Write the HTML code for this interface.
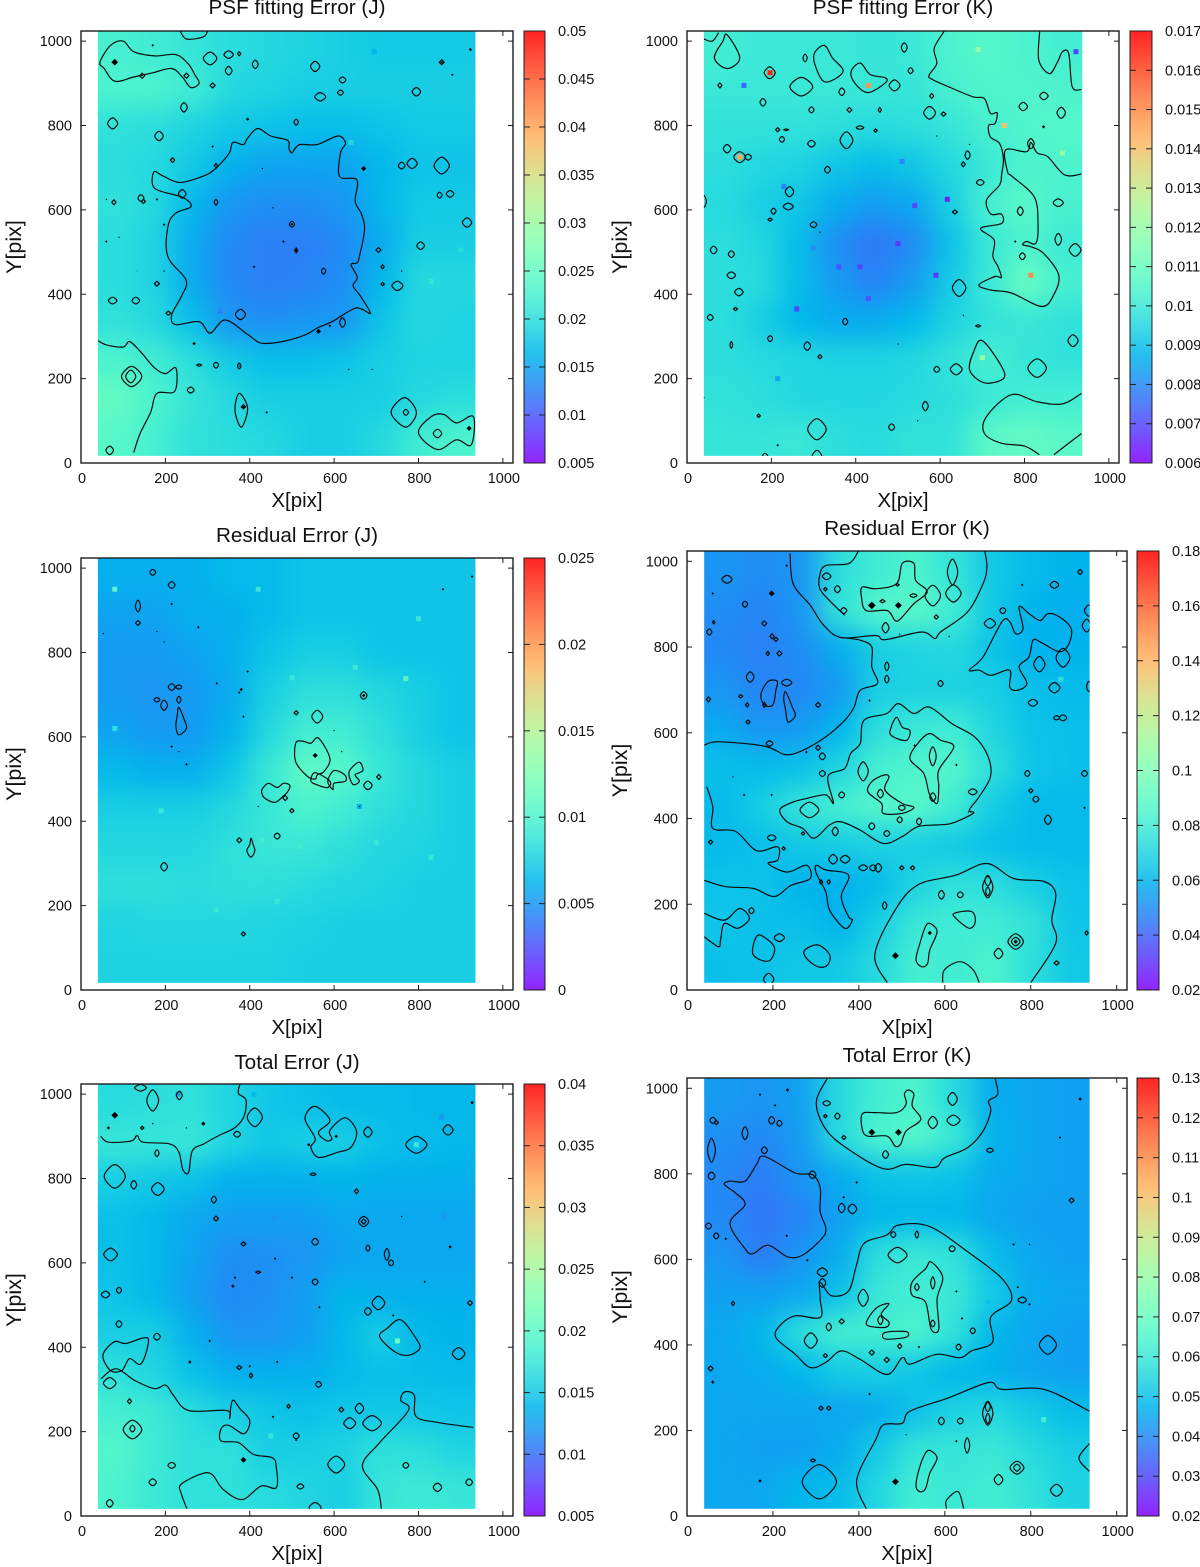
<!DOCTYPE html>
<html lang="en">
<head>
<meta charset="utf-8">
<title>PSF, Residual and Total Error maps</title>
<style>
html,body{margin:0;padding:0;background:#fff;width:1200px;height:1567px;overflow:hidden}
svg{display:block;font-family:"Liberation Sans",Arial,sans-serif}
</style>
</head>
<body>
<svg id="figure" xmlns="http://www.w3.org/2000/svg" width="1200" height="1567" viewBox="0 0 1200 1567">
<defs id="defs"></defs>
</svg>
<script>
// ---------- axis tick labels ----------
const xTickLabels = [0,200,400,600,800,1000];
const yTickLabels = [0,200,400,600,800,1000];
const p1Bar = ["0.005","0.01","0.015","0.02","0.025","0.03","0.035","0.04","0.045","0.05"];
const p2Bar = ["0.006","0.007","0.008","0.009","0.01","0.011","0.012","0.013","0.014","0.015","0.016","0.017"];
const p3Bar = ["0","0.005","0.01","0.015","0.02","0.025"];
const p4Bar = ["0.02","0.04","0.06","0.08","0.1","0.12","0.14","0.16","0.18"];
const p5Bar = ["0.005","0.01","0.015","0.02","0.025","0.03","0.035","0.04"];
const p6Bar = ["0.02","0.03","0.04","0.05","0.06","0.07","0.08","0.09","0.1","0.11","0.12","0.13"];

// ---------- heatmap values, top row first (p1,p2,p3,p5 in 1e-3; p4,p6 in 1e-2) ----------
const p1Values = [
[22.5,22,21,20,19.5,19,18.5,18,18,18],
[23,23,22,19.5,19,18.5,18.5,18.5,18.5,18.5],
[20.5,20,19,18,17.5,17,17,17.5,18,18],
[20,19.5,18,16,15,15,15,16.5,17.5,17.5],
[20.5,19.5,16.5,14,13.5,13.5,14,16.5,18,18],
[20,19,15.5,13.2,12.5,12.5,13.2,15.5,18.5,18.5],
[20,19,15.5,13.2,12.5,12.8,13.5,16.5,19.5,19.5],
[20.5,19.5,17,14,13.5,14,14,17.5,19.5,19],
[23,22,20,18,17,17,17.5,18.5,19,19],
[25,23,21,19.5,18.5,18.5,18.5,18.5,19.5,20],
[24,22.5,20.5,20,19.5,18.5,18.5,19.5,22,23]];
const p2Values = [
[10.2,10,10,10,9.9,10,10.4,10.6,10.4,10.2],
[10,10,10,10,10,9.9,10.3,10.5,10.5,10.4],
[9.8,9.8,9.8,9.7,9.6,9.7,9.9,10.3,10.5,10.6],
[9.7,9.5,9.4,9.1,8.9,9.1,9.5,10,10.4,10.4],
[9.6,9.3,9.1,8.6,8.3,8.5,9.3,10.3,10.7,10.3],
[9.7,9.5,8.9,8.1,7.7,8,9,10,10.4,10.1],
[9.7,9.6,8.9,8.3,7.9,8.3,9.2,10,11,10.3],
[9.7,9.3,8.8,8.6,8.6,8.8,9.4,9.8,10,9.8],
[9.7,9.6,9.5,9.4,9.4,9.5,9.8,10.3,9.9,9.8],
[9.8,9.7,9.5,9.5,9.5,9.6,9.7,10,10.2,10.2],
[9.9,9.9,10,9.7,9.6,9.8,9.8,10.7,10.9,10.7]];
const p3Values = [
[6,6,6,6.5,6.5,7,7,7,7,7],
[5.5,5.5,6,6,6.5,7,7,7,7,7],
[5.2,5.2,5.5,6,7,7.5,7.5,7,7,7],
[5.2,5,5.2,5.8,7.5,8.5,8.5,8,7.5,7],
[5.5,5.2,5.2,6.2,8,9.5,9.5,8.5,7.5,7],
[6.5,6,6,7,9,11,10.5,9,8,7.5],
[7.5,7.5,7.5,8,9,10,9.5,8.5,8,7.5],
[8,8,8,8.5,9,9,8.5,8,7.8,7.5],
[8.5,8.5,8.3,8.5,8.5,8.2,8,7.8,7.5,7.5],
[7.8,8,8,8,7.8,7.7,7.5,7.5,7.5,7.5],
[7.7,7.7,7.7,7.7,7.7,7.5,7.5,7.5,7.5,7.5]];
const p4Values = [
[5.2,5,5.2,7.4,8,8.4,7.6,6.6,6.2,6],
[5,4.8,5.2,7.6,8.6,8.8,8,6.6,6,5.8],
[4.9,4.7,5,5.8,6.8,7,7.2,6.4,5.9,6],
[5.2,4.8,4.9,5.3,6.8,6.9,6.9,6.8,6.3,6.2],
[5.7,5.2,5.3,6,7.4,7.8,8,7,6.4,6.3],
[6.3,6.2,6.3,7,8.2,8.5,8.6,7.4,6.5,6.3],
[6.2,6.8,7.7,8.2,8.6,8.8,8,6.7,6.2,6.2],
[6.2,6.3,6.6,6.7,6.9,6.8,6.6,6.3,6.2,6.2],
[6.4,6.4,6,5.9,6.2,7,7.5,7.4,6.8,6.4],
[6.5,6.3,6.3,6,6.8,7.8,8,8,7.6,6.5],
[6.3,6.4,6.6,6.6,7.2,8.2,8,8.4,7.4,6.6]];
const p5Values = [
[16.5,16.8,17,16,15,14.5,14.2,14.2,14,14],
[17.5,17.5,17.5,16,15,15.5,15.5,14.5,14.2,14],
[15.5,15,14.5,13.5,13.5,13.5,13.8,13.5,13.5,13.5],
[14.5,14,13,12.5,12.5,12.5,13,13,13,13],
[14.5,14,12.8,11.6,11.7,12,12.8,13,13,13],
[14.8,14,12.5,11.4,11.7,12.5,13.8,13.5,13.5,13.5],
[15.5,15.5,13.5,12,12,12.5,14,15.5,14,13.8],
[17,16,14.5,13.5,13.5,13.5,14,14.5,14.3,14.2],
[18.5,18,16.5,15.5,15,14.5,15,15,15,14.8],
[19.5,18,17,17,15.5,15.5,15.8,17,16.8,16],
[19,17.8,17,17,16.5,16,15.5,17.5,18,17.5]];
const p6Values = [
[4.3,4.2,4.4,5.6,6.2,6.4,5.6,4.6,4.5,4.4],
[4.1,4,4.3,5.6,6.4,6.6,6,4.7,4.5,4.4],
[4,3.8,4.2,4.6,5,5.1,5,4.6,4.5,4.4],
[4,3.7,3.9,4.4,4.8,4.8,4.8,4.5,4.4,4.4],
[4.2,3.8,4.2,4.6,5.7,6,5.8,4.9,4.5,4.4],
[4.4,4.4,4.5,5,6,6.2,6,5.2,4.6,4.5],
[4.5,4.8,5.7,6.2,6.2,6.4,5.8,4.8,4.5,4.4],
[4.5,4.6,4.8,5.2,5.3,5.1,4.8,4.7,4.5,4.4],
[4.5,4.5,4.5,4.5,4.6,5,5.4,5.5,5.2,4.9],
[4.5,4.4,4.4,4.6,5.2,5.9,5.9,6,5.6,5.3],
[4.5,4.5,4.8,4.9,5.5,6.2,6,6.2,5.8,5.4]];

// ---------- outlier pixels [x, y, value in same unit] ----------
const p1Hot = [[695,975,16.5],[330,360,13],[640,760,19.5],[900,505,20],[830,430,21]];
const p2Hot = [[197,925,16.5],[815,445,15],[430,895,14.8],[125,725,14.5],[752,800,14],[617,625,6.5],[590,445,6.8],[135,895,7.5],[922,975,7],[540,610,7],[410,465,7],[360,465,7.2],[260,365,7],[430,390,7.2],[230,655,8],[500,520,6.8],[890,735,12],[690,980,12],[510,715,8],[300,510,8],[215,200,8.5],[700,250,12]];
const p3Hot = [[80,950,10.5],[420,950,9],[800,880,9],[650,765,9.2],[500,740,9],[80,620,8.5],[830,315,9],[465,210,9],[320,190,9],[660,435,6],[430,355,9.5],[520,340,9.5],[700,350,9],[190,425,9],[770,738,10.5]];
const p4Hot = [[870,725,7.4]];
const p5Hot = [[80,640,15],[795,880,18],[450,190,17.5],[750,415,21],[230,1000,12.5],[410,1000,14],[860,710,12],[460,705,12],[855,945,12]];
const p6Hot = [[700,500,5],[830,225,6.2]];

// ---------- closed contour outlines in data coordinates ----------
const p1Closed = [
[[419,793],[450,775],[490,765],[493,745],[500,735],[507,745],[520,755],[560,755],[609,775],[627,758],[615,735],[613,679],[654,671],[650,620],[665,590],[672,552],[660,490],[654,474],[640,470],[655,440],[645,420],[663,395],[686,355],[665,365],[645,365],[595,335],[560,320],[532,304],[478,288],[428,284],[396,304],[342,339],[306,308],[280,335],[224,328],[215,351],[238,395],[249,434],[206,489],[206,560],[224,592],[261,608],[240,630],[175,651],[173,690],[195,680],[235,665],[290,680],[319,698],[351,734],[360,760],[385,755],[395,770]],
[[45,950],[70,990],[100,1000],[125,975],[175,965],[225,968],[255,945],[270,920],[280,900],[260,890],[240,915],[215,935],[170,925],[125,915],[80,905],[55,935]],
[[767,155],[795,120],[770,85],[735,120]],
[[375,165],[395,130],[380,85],[365,125]],
[[930,110],[890,95],[860,115],[830,110],[800,71],[845,32],[890,55],[925,43]]
];
const p1Open = [
[[40,290],[60,280],[100,275],[115,288],[140,265],[175,225],[200,212],[225,225],[222,170],[180,165],[165,120],[140,70],[125,25]],
[[235,1024],[250,1005],[290,1010],[300,1024]]
];
const p1Loops = [[306,959,16,15],[350,968,11,9],[375,970,4,5],[413,945,7,10],[350,930,8,10],[555,940,11,12],[620,908,8,7],[615,878,7,6],[567,868,13,10],[795,880,10,10],[855,950,6,6],[145,918,6,6],[250,918,6,6],[312,895,6,6],[244,843,8,11],[75,805,12,13],[185,775,10,11],[510,808,5,7],[217,718,5,6],[320,705,4,5],[240,638,9,10],[142,628,7,8],[148,620,5,5],[78,618,5,6],[320,618,4,7],[500,566,6,7],[510,504,4,6],[575,455,5,7],[705,505,6,6],[715,465,4,5],[715,424,4,4],[805,515,9,9],[750,420,13,11],[785,710,12,12],[760,705,8,8],[855,705,18,20],[875,638,9,8],[850,635,6,7],[915,570,11,11],[180,425,6,6],[75,385,10,8],[130,385,9,8],[378,352,12,12],[207,355,6,5],[620,333,7,11],[260,173,8,7],[320,232,6,7],[280,232,6,3],[375,230,4,7],[68,30,9,10],[845,70,10,10],[770,120,6,7],[120,205,24,24],[118,205,12,15]];
const p1Dots = [[80,950,8],[385,133,7],[670,698,6],[563,312,6],[268,283,4],[170,990,3],[923,980,4],[855,950,3],[90,535,2],[60,525,3],[197,565,3],[180,625,3],[60,625,2],[395,815,4],[312,750,3],[410,465,3],[480,525,3],[455,605,2],[510,504,3],[500,566,3],[590,325,3],[375,230,2],[440,120,3],[635,222,2],[690,222,2],[920,82,6],[880,920,3],[197,455,2],[133,455,1],[760,455,2],[430,698,2]];
const p2Closed = [
[[700,290],[745,230],[750,200],[705,190],[670,220],[680,265]],
[[325,990],[345,960],[370,931],[350,910],[321,907],[300,963]],
[[389,928],[411,948],[434,921],[470,913],[470,901],[429,878],[398,900]],
[[95,1015],[125,960],[95,935],[65,960],[85,1000]]
];
const p2Open = [
[[610,1024],[586,983],[592,947],[574,920],[580,910],[624,890],[678,868],[705,864],[719,829],[735,830],[730,805],[715,800],[719,773],[741,757],[750,720],[746,686],[741,659],[710,623],[720,590],[745,590],[746,568],[696,556],[728,529],[725,490],[737,466],[745,440],[730,442],[692,422],[719,410],[769,403],[841,371],[870,400],[881,446],[845,497],[814,513],[796,517],[805,525],[827,521],[832,568],[823,631],[770,680],[760,690],[755,742],[805,738],[815,760],[830,735],[855,726],[895,683],[935,685]],
[[836,1024],[834,955],[859,923],[878,950],[890,975],[905,970],[913,892],[935,885]],
[[935,165],[890,140],[830,145],[769,162],[710,110],[705,70],[745,47],[800,40],[835,20]],
[[870,20],[935,70]],
[[40,1005],[60,1000],[75,1020]]
];
const p2Loops = [[280,960,5,9],[367,880,7,9],[196,925,13,14],[78,895,5,6],[180,855,7,9],[295,837,6,7],[385,837,6,6],[457,837,4,6],[530,930,6,7],[492,895,13,13],[271,892,27,22],[580,870,5,6],[575,830,14,15],[608,827,6,5],[410,795,9,4],[447,788,4,4],[215,790,5,5],[235,790,6,2],[225,767,6,7],[295,757,9,8],[378,765,15,20],[95,745,9,10],[125,725,14,13],[145,725,8,7],[333,695,7,8],[665,730,6,10],[655,708,5,6],[695,665,9,7],[243,643,10,12],[40,620,6,14],[240,608,12,8],[205,597,6,7],[197,577,5,4],[300,565,8,7],[635,595,6,5],[790,597,7,10],[880,617,12,9],[880,530,8,14],[920,505,14,15],[63,505,8,9],[105,495,7,8],[105,445,10,8],[123,405,10,9],[645,415,16,20],[115,365,5,4],[55,345,7,7],[375,335,6,8],[197,295,6,7],[105,280,3,8],[285,277,8,10],[315,252,5,5],[565,135,7,11],[170,112,4,4],[485,85,7,8],[308,80,22,25],[795,490,7,8],[830,225,22,22],[638,222,14,13],[592,222,7,7],[915,290,12,14],[690,325,6,3],[846,870,10,9],[797,845,10,10],[887,830,10,13],[815,757,8,12],[515,985,7,11],[308,15,12,15],[185,15,7,8]];
const p2Dots = [[215,42,3],[845,797,4],[655,350,2],[500,282,2],[547,100,2],[592,775,2],[670,755,2],[315,547,2],[778,525,3],[40,155,2]];
const p3Closed = [
[[509,585],[525,590],[545,585],[563,597],[590,549],[576,518],[560,510],[555,500],[536,507],[509,541]],
[[555,515],[590,495],[585,480],[563,485],[545,495]],
[[585,495],[600,520],[625,510],[627,495],[600,490],[597,475]],
[[640,525],[660,540],[668,520],[650,510],[660,495],[645,487],[635,510]],
[[432,480],[445,490],[465,480],[480,490],[495,485],[490,470],[480,460],[460,445],[435,455],[428,470]],
[[232,670],[245,640],[250,620],[232,605],[225,625],[228,650]],
[[403,360],[408,345],[412,330],[403,315],[393,330],[400,345]]
];
const p3Open = [];
const p3Loops = [[170,990,7,7],[215,960,8,8],[135,910,6,14],[135,870,6,6],[215,718,8,8],[232,718,7,5],[180,688,7,5],[197,675,8,12],[232,688,5,8],[510,657,5,5],[560,648,13,15],[670,698,8,9],[706,505,5,6],[680,485,10,10],[484,455,6,6],[500,425,5,5],[465,365,7,7],[375,355,6,6],[197,292,8,10],[385,133,5,5]];
const p3Dots = [[215,915,3],[278,860,3],[180,850,2],[197,825,2],[395,755,3],[322,727,3],[380,712,4],[375,705,3],[385,648,3],[215,577,3],[232,565,2],[250,535,3],[600,615,2],[618,565,2],[555,556,6],[670,698,4],[858,950,3],[927,980,3],[420,435,2],[660,435,2],[53,845,2],[250,1024,2]];
const p4Closed = [
[[408,940],[439,936],[488,948],[501,995],[528,995],[532,956],[559,929],[528,901],[497,866],[484,862],[466,885],[417,885],[406,916]],
[[657,746],[689,777],[733,859],[751,859],[765,831],[782,843],[773,894],[796,878],[822,862],[840,878],[867,870],[894,843],[889,808],[867,789],[822,812],[805,816],[796,777],[773,754],[791,715],[769,699],[751,707],[751,746],[707,734],[680,746]],
[[216,420],[243,437],[279,447],[323,455],[341,436],[328,498],[367,517],[381,552],[403,575],[412,629],[465,645],[492,668],[528,645],[564,660],[617,621],[670,590],[701,544],[706,497],[680,451],[657,420],[666,412],[617,389],[582,385],[537,381],[501,358],[457,342],[403,373],[359,392],[332,385],[296,354],[269,377],[233,392]],
[[171,128],[203,101],[194,70],[171,70],[153,85],[158,117]],
[[274,93],[305,105],[332,82],[327,58],[305,54],[278,74]],
[[301,291],[323,280],[376,268],[359,218],[376,171],[385,163],[367,144],[332,186],[323,229],[301,272]],
[[566,155],[582,136],[565,93],[560,62],[547,54],[533,70],[542,109],[555,148]],
[[622,179],[662,183],[671,159],[657,144],[626,167]],
[[488,636],[501,613],[519,605],[510,582],[475,594],[475,613]],
[[564,598],[590,583],[621,567],[586,513],[586,474],[582,435],[564,458],[551,505],[519,539],[537,575]],
[[457,501],[470,497],[461,466],[501,435],[528,426],[501,412],[457,412],[453,435],[421,462],[430,486]],
[[189,720],[210,720],[207,700],[200,665],[180,665],[172,690]],
[[230,695],[245,660],[252,640],[235,625],[230,650],[225,680]]
];
const p4Open = [
[[240,1018],[247,948],[287,897],[318,851],[359,822],[439,827],[461,817],[546,835],[577,820],[590,835],[653,882],[689,948],[698,987],[693,1024]],
[[399,1024],[377,995],[323,990],[309,968],[309,936],[331,909],[367,874]],
[[40,571],[73,579],[180,569],[229,549],[269,559],[322,590],[367,629],[389,660],[403,699],[443,715],[430,754],[430,800],[403,816],[359,822]],
[[46,474],[60,427],[60,377],[113,370],[162,325],[211,334],[211,303],[189,295],[233,275],[278,291],[287,260],[242,244],[203,218],[154,237],[91,241],[40,256]],
[[40,179],[87,163],[122,190],[145,167],[118,144],[87,155],[78,116],[73,101],[40,124]],
[[466,17],[437,82],[484,186],[537,245],[626,268],[698,295],[760,260],[831,253],[858,225],[849,163],[858,109],[800,17]],
[[595,17],[599,47],[635,66],[666,47],[680,17]]
];
const p4Loops = [[700,240,12,25],[700,255,7,12],[700,230,5,10],[765,113,18,18],[765,113,10,10],[725,85,10,12],[592,222,7,10],[636,222,7,7],[460,197,5,9],[93,958,12,9],[135,900,6,7],[52,835,6,7],[62,858,3,4],[180,855,6,6],[198,825,5,6],[207,818,5,5],[215,785,6,6],[188,785,4,5],[147,730,9,12],[232,717,12,8],[125,685,5,4],[50,678,5,6],[140,665,4,5],[180,665,4,6],[305,665,6,6],[142,625,5,5],[192,575,8,6],[305,565,6,6],[315,545,7,8],[315,505,7,7],[360,455,7,7],[430,382,7,8],[465,365,7,7],[495,397,6,7],[540,393,6,8],[270,365,4,4],[197,355,10,7],[345,370,7,10],[665,462,10,7],[792,505,6,7],[800,465,5,5],[812,445,7,7],[840,397,8,11],[925,505,7,7],[55,345,5,5],[225,330,4,4],[340,305,10,11],[368,305,11,9],[410,285,10,7],[433,285,8,7],[445,285,8,10],[500,285,5,5],[525,285,5,5],[312,252,4,5],[330,252,4,5],[150,185,6,7],[215,122,12,9],[190,25,12,14],[860,63,6,5],[930,133,4,5],[855,945,10,8],[735,885,7,7],[705,855,13,11],[875,775,16,22],[820,760,13,18],[855,705,13,12],[935,708,5,12],[805,670,11,8],[860,635,7,5],[875,635,9,7],[935,885,10,13],[930,850,10,15],[915,975,6,6],[618,975,12,30],[620,925,18,20],[572,920,18,24],[325,965,10,8],[322,935,4,4],[350,935,7,8],[490,945,4,3],[527,920,8,4],[455,907,6,4],[365,885,7,7],[462,845,8,12],[580,870,5,5],[410,510,12,22],[450,458,7,10],[572,545,8,22],[572,450,7,10],[500,425,8,6],[285,420,22,18],[465,755,5,10],[465,725,5,9],[590,715,6,7]];
const p4Dots = [[197,925,7],[430,897,9],[492,897,8],[485,80,8],[565,133,5],[765,113,5],[232,990,3],[60,925,3],[495,830,2],[425,675,3],[530,570,3],[107,497,2],[627,525,3],[133,455,3],[197,455,3],[655,415,2],[278,555,3],[925,425,3],[780,945,3],[610,825,2]];
const p5Closed = [
[[758,465],[794,421],[803,397],[776,381],[744,389],[708,425],[726,445]],
[[52,381],[79,413],[106,409],[147,422],[160,417],[151,377],[138,359],[115,373],[97,345],[70,345]],
[[554,971],[590,938],[563,910],[581,890],[595,894],[590,914],[626,944],[653,912],[640,874],[608,862],[563,850],[545,874],[555,895],[531,942]]
];
const p5Open = [
[[47,900],[65,886],[119,889],[133,902],[147,886],[210,882],[232,862],[241,822],[255,814],[264,866],[291,882],[327,902],[364,920],[386,946],[391,986],[373,1002],[377,1024]],
[[47,325],[83,349],[128,321],[174,302],[201,310],[219,286],[255,250],[345,250],[352,230]],
[[352,230],[359,274],[377,254],[400,226],[386,195],[350,215],[332,207],[332,178],[373,174],[409,146],[454,138],[463,115],[463,67],[427,71],[382,39],[337,63],[310,99],[283,99],[237,75],[237,55],[251,17]],
[[712,17],[703,63],[667,119],[708,174],[776,250],[758,274],[767,294],[790,286],[794,236],[844,222],[930,210]]
];
const p5Loops = [[141,1015,14,8],[170,985,14,25],[233,997,7,10],[412,945,18,22],[370,905,8,7],[795,880,25,20],[870,915,12,12],[680,910,10,12],[80,805,25,28],[125,785,7,10],[182,775,15,15],[315,750,6,8],[320,705,6,6],[653,770,5,6],[550,810,7,3],[670,698,12,12],[670,698,6,6],[385,645,6,5],[555,650,8,8],[680,635,5,7],[70,620,16,15],[725,620,6,14],[735,600,6,7],[555,555,7,7],[90,535,6,7],[58,525,10,8],[705,505,15,16],[680,485,8,9],[90,455,7,8],[180,425,8,8],[895,385,15,14],[420,578,6,3],[375,352,6,5],[403,333,4,6],[563,312,7,7],[68,315,15,13],[115,272,5,6],[492,260,4,5],[617,252,6,6],[660,255,10,12],[637,220,14,13],[690,220,22,18],[510,190,7,7],[122,205,22,22],[122,207,6,8],[215,120,9,7],[170,80,9,8],[605,122,20,20],[520,70,8,6],[770,120,7,7],[845,68,10,10],[920,80,8,8],[68,30,8,9],[555,20,14,12],[922,505,6,6],[145,920,4,4],[180,860,5,8]];
const p5Dots = [[80,950,8],[385,133,7],[250,920,2],[460,610,3],[365,565,3],[360,545,4],[875,638,4],[305,415,3],[258,365,4],[465,365,3],[565,495,3],[927,980,4],[290,930,5],[65,920,4],[170,930,2],[605,900,4],[540,880,4],[400,355,3],[455,235,3],[510,180,3],[500,565,3],[760,710,2],[815,555,3],[740,475,3]];
const p6Closed = [
[[408,940],[439,943],[488,943],[510,963],[506,986],[515,996],[528,986],[524,959],[544,927],[510,900],[497,869],[484,865],[466,888],[421,888],[408,904]],
[[180,841],[252,802],[292,798],[310,767],[310,712],[323,673],[314,649],[269,610],[234,606],[189,633],[153,613],[135,625],[100,684],[135,728],[113,755],[87,775],[100,783],[135,783],[162,822]],
[[492,680],[564,677],[653,618],[733,555],[755,504],[707,465],[711,406],[662,386],[635,370],[581,378],[519,355],[501,370],[466,331],[403,366],[359,386],[323,359],[287,347],[252,378],[207,417],[216,445],[252,468],[310,464],[310,507],[310,546],[336,515],[376,526],[394,585],[412,637],[465,657]],
[[566,153],[582,135],[565,100],[555,64],[541,57],[533,73],[542,116],[555,147]],
[[568,594],[595,558],[582,507],[586,437],[568,437],[555,500],[524,516],[524,547],[555,578]],
[[470,496],[443,488],[421,461],[421,445],[461,441],[470,453],[452,472]],
[[461,429],[510,431],[510,418],[461,414]]
];
const p6Open = [
[[327,1024],[301,967],[323,904],[376,857],[457,812],[510,822],[577,815],[599,837],[653,861],[689,900],[707,947],[702,970],[723,986],[717,1024]],
[[417,17],[395,84],[439,178],[457,213],[501,217],[519,245],[608,276],[702,312],[733,296],[831,296],[937,245]],
[[937,170],[912,135],[937,104]],
[[604,17],[604,37],[631,57],[644,17]]
];
const p6Loops = [[840,400,20,22],[860,60,14,14],[308,80,40,40],[700,240,12,28],[700,255,6,11],[700,228,5,12],[768,113,16,15],[768,113,8,8],[725,85,10,12],[592,222,7,9],[636,222,7,7],[652,165,6,18],[288,410,15,18],[490,610,22,18],[410,510,12,20],[450,458,6,10],[572,545,5,14],[572,450,5,8],[330,442,6,9],[360,455,6,6],[430,382,6,6],[465,365,6,6],[495,397,5,6],[315,570,12,10],[315,545,8,10],[665,433,6,7],[632,395,6,7],[322,375,5,5],[480,658,6,7],[535,658,4,8],[617,625,7,7],[780,505,10,7],[705,855,8,5],[895,738,6,6],[312,252,5,5],[330,252,5,5],[293,130,6,4],[618,975,11,15],[620,925,15,12],[572,920,11,14],[325,965,9,6],[322,935,4,4],[350,935,6,7],[365,885,5,5],[462,845,7,9],[60,925,7,7],[68,920,5,5],[135,895,7,15],[197,925,7,9],[215,918,6,7],[57,855,9,28],[57,795,8,9],[50,678,7,7],[68,655,6,7],[180,855,7,8],[292,798,8,9],[360,720,8,11],[385,718,10,11],[55,345,6,6],[107,497,4,5],[535,535,5,8]];
const p6Dots = [[430,897,8],[492,897,8],[485,80,8],[170,985,3],[234,996,4],[915,975,4],[395,780,3],[365,745,3],[425,285,3],[280,598,3],[232,655,3],[205,960,3],[90,648,3],[60,313,4],[170,82,4],[627,175,3],[510,190,2],[760,635,3],[797,635,2],[868,885,3],[797,495,3],[770,535,3],[627,525,3],[540,395,3],[640,462,3]];

// ---------- panel wiring ----------
const panels = [
 {id:"psf-j",title:"PSF fitting Error (J)",bar:p1Bar,values:p1Values,unit:1e-3,hot:p1Hot,closed:p1Closed,open:p1Open,loops:p1Loops,dots:p1Dots,L:81,R:513,T:31,B:463,titleY:14,heatR:935,heatB:17,cL:524,cR:545},
 {id:"psf-k",title:"PSF fitting Error (K)",bar:p2Bar,values:p2Values,unit:1e-3,hot:p2Hot,closed:p2Closed,open:p2Open,loops:p2Loops,dots:p2Dots,L:687,R:1119,T:31,B:463,titleY:14,heatR:937,heatB:17,cL:1130,cR:1152},
 {id:"residual-j",title:"Residual Error (J)",bar:p3Bar,values:p3Values,unit:1e-3,hot:p3Hot,closed:p3Closed,open:p3Open,loops:p3Loops,dots:p3Dots,L:81,R:513,T:558,B:990,titleY:542,heatR:935,heatB:17,cL:524,cR:545},
 {id:"residual-k",title:"Residual Error (K)",bar:p4Bar,values:p4Values,unit:1e-2,hot:p4Hot,closed:p4Closed,open:p4Open,loops:p4Loops,dots:p4Dots,L:687,R:1127,T:551,B:990,titleY:535,heatR:937,heatB:17,cL:1137,cR:1159},
 {id:"total-j",title:"Total Error (J)",bar:p5Bar,values:p5Values,unit:1e-3,hot:p5Hot,closed:p5Closed,open:p5Open,loops:p5Loops,dots:p5Dots,L:81,R:513,T:1084,B:1516,titleY:1069,heatR:935,heatB:17,cL:524,cR:545},
 {id:"total-k",title:"Total Error (K)",bar:p6Bar,values:p6Values,unit:1e-2,hot:p6Hot,closed:p6Closed,open:p6Open,loops:p6Loops,dots:p6Dots,L:687,R:1127,T:1078,B:1516,titleY:1062,heatR:937,heatB:17,cL:1137,cR:1159}
];

const NS = "http://www.w3.org/2000/svg";
const root = document.getElementById("figure");
const defs = document.getElementById("defs");
function mk(tag, attrs, parent){
  const el = document.createElementNS(NS, tag);
  for (const k in attrs) el.setAttribute(k, attrs[k]);
  if (parent) parent.appendChild(el);
  return el;
}
// gnuplot palette rgbformulae 33,13,10
function palette(t){
  t = Math.max(0, Math.min(1, t));
  const r = Math.min(1, Math.abs(2*t - 0.5));
  const g = Math.sin(Math.PI*t);
  const b = Math.cos(Math.PI*t/2);
  return "rgb(" + Math.round(255*r) + "," + Math.round(255*g) + "," + Math.round(255*b) + ")";
}
// Catmull-Rom smoothing through contour vertices given as [px,py]
function smoothPath(pts, closed){
  const n = pts.length;
  const at = i => closed ? pts[(i+n)%n] : pts[Math.max(0, Math.min(n-1, i))];
  let d = "M" + pts[0][0].toFixed(1) + " " + pts[0][1].toFixed(1);
  const last = closed ? n : n-1;
  for (let i = 0; i < last; i++){
    const p0 = at(i-1), p1 = at(i), p2 = at(i+1), p3 = at(i+2);
    const c1x = p1[0] + (p2[0]-p0[0])/6, c1y = p1[1] + (p2[1]-p0[1])/6;
    const c2x = p2[0] - (p3[0]-p1[0])/6, c2y = p2[1] - (p3[1]-p1[1])/6;
    d += "C" + c1x.toFixed(1) + " " + c1y.toFixed(1) + " " + c2x.toFixed(1) + " " + c2y.toFixed(1) + " " + p2[0].toFixed(1) + " " + p2[1].toFixed(1);
  }
  return closed ? d + "Z" : d;
}
const gradient = mk("linearGradient", {id:"barGradient", x1:0, y1:1, x2:0, y2:0}, defs);
for (let i = 0; i <= 40; i++) mk("stop", {offset:i/40, "stop-color":palette(i/40)}, gradient);
const blur = mk("filter", {id:"heatBlur", filterUnits:"userSpaceOnUse", x:0, y:0, width:1200, height:1567, "color-interpolation-filters":"sRGB"}, defs);
mk("feGaussianBlur", {stdDeviation:"13"}, blur);

const AXIS = "#1c1c1c";
panels.forEach(function(p, idx){
  const w = p.R - p.L, h = p.B - p.T;
  const xS = d => p.L + d * w / 1024;
  const yS = d => p.B - d * h / 1024;
  const vMin = parseFloat(p.bar[0]), vMax = parseFloat(p.bar[p.bar.length-1]);
  const colorOf = v => palette((v * p.unit - vMin) / (vMax - vMin));

  const g = mk("g", {}, root);
  
  

  // ticks (the heatmap is painted over them)
  const ticks = mk("g", {stroke:AXIS, "stroke-width":1}, g);
  
  
  xTickLabels.forEach(function(v){
    mk("line", {x1:xS(v), x2:xS(v), y1:p.B, y2:p.B-5}, ticks);
    mk("line", {x1:xS(v), x2:xS(v), y1:p.T, y2:p.T+5}, ticks);
  });
  yTickLabels.forEach(function(v){
    mk("line", {y1:yS(v), y2:yS(v), x1:p.L, x2:p.L+5}, ticks);
    mk("line", {y1:yS(v), y2:yS(v), x1:p.R, x2:p.R-5}, ticks);
  });

  // heatmap
  const clipId = "clip" + idx;
  const hx0 = xS(40), hx1 = xS(p.heatR), hy0 = p.T, hy1 = yS(p.heatB);
  const clip = mk("clipPath", {id:clipId}, defs);
  mk("rect", {x:hx0, y:hy0, width:hx1-hx0, height:hy1-hy0}, clip);
  const heatClip = mk("g", {"clip-path":"url(#"+clipId+")"}, g);
  
  
  const heat = mk("g", {filter:"url(#heatBlur)"}, heatClip);
  const rows = p.values.length, cols = p.values[0].length;
  const cw = (hx1-hx0)/cols, ch = (hy1-hy0)/rows;
  p.values.forEach(function(row, r){
    row.forEach(function(v, c){
      const pad = 45;
      const x0 = hx0 + c*cw - (c===0?pad:0), x1 = hx0 + (c+1)*cw + (c===cols-1?pad:0);
      const y0 = hy0 + r*ch - (r===0?pad:0), y1 = hy0 + (r+1)*ch + (r===rows-1?pad:0);
      const cell = mk("rect", {x:x0, y:y0, width:x1-x0+0.5, height:y1-y0+0.5, fill:colorOf(v)}, heat);
      
      
    });
  });
  p.hot.forEach(function(o){
    const s = 5;
    const px = mk("rect", {x:xS(o[0])-s/2, y:yS(o[1])-s/2, width:s, height:s, fill:colorOf(o[2])}, heatClip);
    
    
  });

  // contours
  const contour = mk("g", {fill:"none", stroke:"#0d0d0d", "stroke-width":1.2, "stroke-linejoin":"round"}, heatClip);
  
  
  const toPx = pts => pts.map(q => [xS(q[0]), yS(q[1])]);
  const ptStr = pts => toPx(pts).map(q => q[0].toFixed(1) + "," + q[1].toFixed(1)).join(" ");
  p.closed.forEach(function(pts){
    const el = mk("path", {d:smoothPath(toPx(pts), true)}, contour);
    
    
  });
  p.open.forEach(function(pts){
    const el = mk("path", {d:smoothPath(toPx(pts), false)}, contour);
    
    
  });
  p.loops.forEach(function(o){
    const rx = o[2], ry = o[3];
    const corners = [[o[0],o[1]+ry],[o[0]+rx,o[1]],[o[0],o[1]-ry],[o[0]-rx,o[1]]];
    let el;
    if (Math.max(rx, ry) >= 7) {
      el = mk("path", {d:smoothPath(toPx(corners), true)}, contour);
    } else {
      el = mk("polygon", {points:ptStr(corners)}, contour);
    }
    
    
  });
  p.dots.forEach(function(o){
    const r = o[2];
    const el = mk("polygon", {points:ptStr([[o[0],o[1]+r],[o[0]+r,o[1]],[o[0],o[1]-r],[o[0]-r,o[1]]]), fill:"#000", stroke:"none"}, contour);
    
    
  });

  // frame
  const frame = mk("rect", {x:p.L, y:p.T, width:w, height:h, fill:"none", stroke:AXIS, "stroke-width":1.4}, g);
  
  

  // tick labels
  xTickLabels.forEach(function(v){
    const t = mk("text", {x:xS(v)+1, y:p.B+20, "text-anchor":"middle", "font-size":14.5, fill:"#111"}, g);
    t.textContent = v;
    
    
  });
  yTickLabels.forEach(function(v){
    const t = mk("text", {x:p.L-9, y:yS(v)+5, "text-anchor":"end", "font-size":14.5, fill:"#111"}, g);
    t.textContent = v;
    
    
  });

  // titles
  const tt = mk("text", {x:(p.L+p.R)/2, y:p.titleY, "text-anchor":"middle", "font-size":20.7, fill:"#111"}, g);
  tt.textContent = p.title;
  
  
  const xt = mk("text", {x:(p.L+p.R)/2, y:p.B+44, "text-anchor":"middle", "font-size":20.5, fill:"#111"}, g);
  xt.textContent = "X[pix]";
  
  
  const yx = p.L - 60, yy = (p.T+p.B)/2;
  const yt = mk("text", {x:yx, y:yy, "text-anchor":"middle", "font-size":21.5, fill:"#111", transform:"rotate(-90 "+yx+" "+yy+")"}, g);
  yt.textContent = "Y[pix]";
  
  

  // colour bar
  const cb = mk("g", {}, g);
  
  
  const cbr = mk("rect", {x:p.cL, y:p.T, width:p.cR-p.cL, height:h, fill:"url(#barGradient)", "fill-opacity":0.86, stroke:AXIS, "stroke-width":1}, cb);
  
  
  p.bar.forEach(function(label){
    const v = parseFloat(label);
    const y = p.B - (v - vMin)/(vMax - vMin)*h;
    mk("line", {x1:p.cL, x2:p.cL+6, y1:y, y2:y, stroke:"#222", "stroke-width":1}, cb);
    mk("line", {x1:p.cR-6, x2:p.cR, y1:y, y2:y, stroke:"#222", "stroke-width":1}, cb);
    const t = mk("text", {x:p.cR+13, y:y+5, "font-size":14.5, fill:"#111"}, cb);
    t.textContent = label;
    
    
  });
});
</script>
</body>
</html>
